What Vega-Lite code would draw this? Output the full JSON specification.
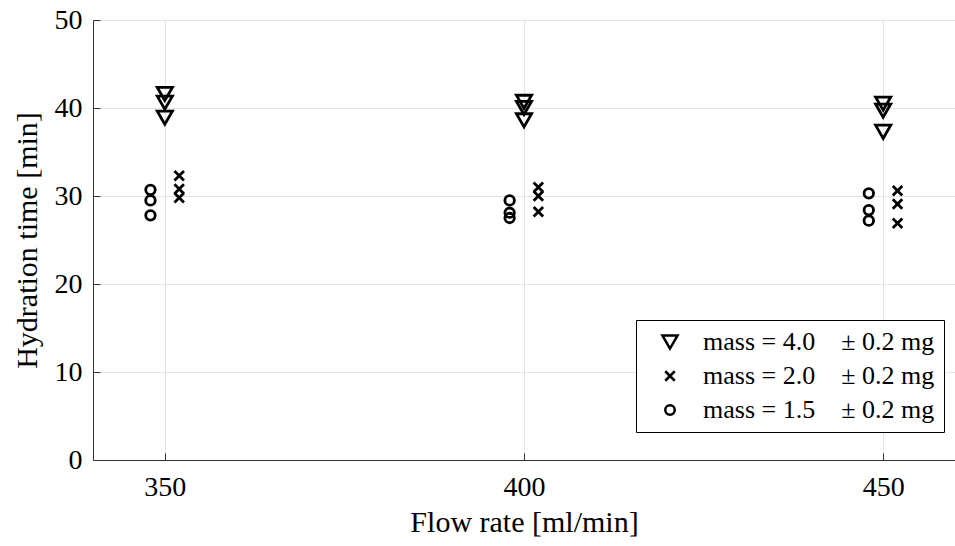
{
  "$schema": "https://vega.github.io/schema/vega-lite/v6.json",
  "width": 862,
  "height": 440,
  "autosize": {"type": "none"},
  "padding": {"left": 93, "top": 20, "right": 0, "bottom": 86},
  "background": "white",
  "config": {
    "view": {"stroke": null},
    "font": "Times New Roman, Liberation Serif, Times, serif",
    "axis": {
      "labelFont": "Times New Roman, Liberation Serif, Times, serif",
      "titleFont": "Times New Roman, Liberation Serif, Times, serif",
      "labelFontSize": 28,
      "titleFontSize": 30,
      "titleFontWeight": "normal",
      "labelColor": "#000",
      "titleColor": "#000",
      "domainColor": "#333",
      "tickColor": "#333",
      "gridColor": "#e3e3e3",
      "gridWidth": 1,
      "tickSize": -7
    }
  },
  "data": {
    "values": [
      {"flow": 350, "time": 41.6, "series": "mass = 4.0"},
      {"flow": 350, "time": 40.6, "series": "mass = 4.0"},
      {"flow": 350, "time": 38.9, "series": "mass = 4.0"},
      {"flow": 352, "time": 32.3, "series": "mass = 2.0"},
      {"flow": 352, "time": 30.8, "series": "mass = 2.0"},
      {"flow": 352, "time": 29.8, "series": "mass = 2.0"},
      {"flow": 348, "time": 30.7, "series": "mass = 1.5"},
      {"flow": 348, "time": 29.5, "series": "mass = 1.5"},
      {"flow": 348, "time": 27.8, "series": "mass = 1.5"},
      {"flow": 400, "time": 40.7, "series": "mass = 4.0"},
      {"flow": 400, "time": 40.0, "series": "mass = 4.0"},
      {"flow": 400, "time": 38.6, "series": "mass = 4.0"},
      {"flow": 402, "time": 31.0, "series": "mass = 2.0"},
      {"flow": 402, "time": 30.0, "series": "mass = 2.0"},
      {"flow": 402, "time": 28.2, "series": "mass = 2.0"},
      {"flow": 398, "time": 29.5, "series": "mass = 1.5"},
      {"flow": 398, "time": 28.1, "series": "mass = 1.5"},
      {"flow": 398, "time": 27.5, "series": "mass = 1.5"},
      {"flow": 450, "time": 40.5, "series": "mass = 4.0"},
      {"flow": 450, "time": 39.7, "series": "mass = 4.0"},
      {"flow": 450, "time": 37.3, "series": "mass = 4.0"},
      {"flow": 452, "time": 30.6, "series": "mass = 2.0"},
      {"flow": 452, "time": 29.1, "series": "mass = 2.0"},
      {"flow": 452, "time": 26.9, "series": "mass = 2.0"},
      {"flow": 448, "time": 30.3, "series": "mass = 1.5"},
      {"flow": 448, "time": 28.4, "series": "mass = 1.5"},
      {"flow": 448, "time": 27.2, "series": "mass = 1.5"}
    ]
  },
  "mark": {"type": "point", "filled": false, "color": "#000", "strokeWidth": 2.8, "opacity": 1},
  "encoding": {
    "x": {
      "field": "flow", "type": "quantitative",
      "scale": {"domain": [340, 460], "nice": false, "zero": false},
      "axis": {"values": [350, 400, 450], "title": "Flow rate [ml/min]", "labelPadding": 20, "titlePadding": 6}
    },
    "y": {
      "field": "time", "type": "quantitative",
      "scale": {"domain": [0, 50], "nice": false},
      "axis": {"values": [0, 10, 20, 30, 40, 50], "title": "Hydration time [min]", "labelPadding": 18, "titlePadding": 12}
    },
    "shape": {
      "field": "series", "type": "nominal",
      "scale": {
        "domain": ["mass = 4.0", "mass = 2.0", "mass = 1.5"],
        "range": ["triangle-down", "M-0.75,-0.75L0.75,0.75M-0.75,0.75L0.75,-0.75", "circle"]
      },
      "legend": {
        "title": null,
        "orient": "none",
        "legendX": 543,
        "legendY": 300,
        "padding": 9,
        "strokeColor": "#000",
        "fillColor": "#fff",
        "labelFont": "Times New Roman, Liberation Serif, Times, serif",
        "labelFontSize": 26,
        "labelColor": "#000",
        "labelLimit": 400,
        "labelExpr": "datum.label + '\u00a0\u00a0\u00a0\u00a0± 0.2 mg'",
        "symbolStrokeColor": "#000",
        "symbolStrokeWidth": 2.5,
        "symbolOffset": 12,
        "labelOffset": 20,
        "rowPadding": 8,
        "offset": 0
      }
    },
    "size": {
      "field": "series", "type": "nominal",
      "scale": {"domain": ["mass = 4.0", "mass = 2.0", "mass = 1.5"], "range": [230, 90, 200]},
      "legend": {
        "title": null,
        "orient": "none",
        "legendX": 543,
        "legendY": 300,
        "padding": 9,
        "strokeColor": "#000",
        "fillColor": "#fff",
        "labelFont": "Times New Roman, Liberation Serif, Times, serif",
        "labelFontSize": 26,
        "labelColor": "#000",
        "labelLimit": 400,
        "labelExpr": "datum.label + '\u00a0\u00a0\u00a0\u00a0± 0.2 mg'",
        "symbolStrokeColor": "#000",
        "symbolStrokeWidth": 2.5,
        "symbolOffset": 12,
        "labelOffset": 20,
        "rowPadding": 8,
        "offset": 0
      }
    }
  }
}
